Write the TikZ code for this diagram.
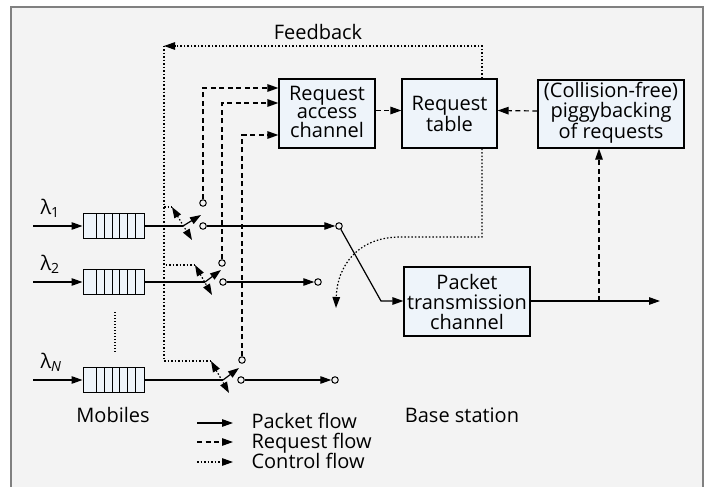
\documentclass[tikz,border=0pt]{standalone}
\usepackage{fontspec}
\setmainfont{Open Sans}
\usetikzlibrary{arrows.meta}
\definecolor{bgcol}{HTML}{F3F3F3}
\definecolor{boxfill}{HTML}{EEF4FA}
\definecolor{framecol}{HTML}{808080}

\begin{document}
\begin{tikzpicture}[x=1pt,y=-1pt,
		>={Triangle[length=11pt,width=7.5pt]},
		every node/.style={font=\fontsize{20}{17}\selectfont},
		block/.style={draw,fill=boxfill,line width=1.2pt,inner sep=0pt,align=center},
		queue/.style={draw,fill=boxfill,line width=1pt,minimum width=61pt,minimum height=25pt,inner sep=0pt,
			path picture={\foreach \d in {13,21,29,36.5,44,52}
				\draw ([xshift=\d pt]path picture bounding box.south west) -- ([xshift=\d pt]path picture bounding box.north west);}},
		contact/.style={circle,draw,fill=bgcol,line width=1pt,minimum size=6.5pt,inner sep=0pt},
		packet/.style={line width=1.2pt},
		request/.style={line width=1.2pt,dash pattern=on 5pt off 3.5pt},
		control/.style={line width=1.2pt,dash pattern=on 1.5pt off 2pt}]
			\useasboundingbox (0,0) rectangle (707,487);
			\fill[bgcol] (11,7) rectangle (703,487);
			\draw[framecol,line width=2pt] (11,487) -- (11,7) -- (703,7) -- (703,487);
		
			% base station blocks
			\node[block,minimum width=96pt,minimum height=69pt,text depth=4pt,font=\fontsize{20}{18.5}\selectfont] (rac) at (327,113.5) {Request\\access\\channel};
			\node[block,minimum width=95pt,minimum height=69pt] (rtab) at (449.5,113.5) {Request\\table};
			\node[block,minimum width=146pt,minimum height=68pt,text depth=7pt] (piggy) at (611,114) {(Collision-free)\\piggybacking\\of requests};
			\node[block,minimum width=126pt,minimum height=69pt,font=\fontsize{20}{20}\selectfont] (ptc) at (467,301.5) {Packet\\transmission\\channel};
			
			% mobiles
			\node[queue] (q1) at (113.5,226) {};
			\node[queue] (q2) at (113.5,282) {};
			\node[queue] (qN) at (113.5,380) {};
			\node[anchor=base west] (lam1) at (37,214) {λ\textsubscript{1}};
			\node[anchor=base west] (lam2) at (37,270) {λ\textsubscript{2}};
			\node[anchor=base west] (lamN) at (37,368) {λ\textsubscript{\itshape N}};
			\coordinate (in1) at (33,226);
			\coordinate (in2) at (33,282);
			\coordinate (inN) at (33,380);
			\draw[packet,->] (in1) -- (q1);
			\draw[packet,->] (in2) -- (q2);
			\draw[packet,->] (inN) -- (qN);
			\coordinate (dt) at (115,312);
			\coordinate (db) at (115,352);
			\draw[line width=1.2pt,dash pattern=on 1.2pt off 1.8pt] (dt) -- (db);
			
			% switches
			\coordinate (pv1) at (183,226);
			\coordinate (pv2) at (205,282);
			\coordinate (pvN) at (223,380);
			\coordinate (lv1) at (201,215);
			\coordinate (lv2) at (221,270);
			\coordinate (lvN) at (239,368);
			\node[contact] (up1) at (203,203) {};
			\node[contact] (lo1) at (203,226) {};
			\node[contact] (up2) at (222,263) {};
			\node[contact] (lo2) at (223,282) {};
			\node[contact] (upN) at (242,360) {};
			\node[contact] (loN) at (241,380) {};
			\draw[packet] (q1) -- (pv1);
			\draw[packet] (q2) -- (pv2);
			\draw[packet] (qN) -- (pvN);
			\draw[packet,->] (pv1) -- (lv1);
			\draw[packet,->] (pv2) -- (lv2);
			\draw[packet,->] (pvN) -- (lvN);
			
			% feedback / control
			\coordinate (fbl) at (164,46);
			\coordinate (fbr) at (482,46);
			\node[anchor=base] (fbtxt) at (318,40) {Feedback};
			\draw[control,->] (rtab.north -| fbr) -- (fbr) -- (fbl);
			\coordinate (ca1) at (172,207);
			\coordinate (cb1) at (192,240);
			\coordinate (ca2) at (195,265);
			\coordinate (cb2) at (212,295);
			\coordinate (caN) at (211,361);
			\coordinate (cbN) at (229,393);
			\draw[control] (fbl) |- (ca1);
			\draw[control] (fbl) |- (ca2);
			\draw[control] (fbl) |- (caN);
			\draw[control,<->] (ca1) -- (cb1);
			\draw[control,<->] (ca2) -- (cb2);
			\draw[control,<->] (caN) -- (cbN);
			\coordinate (cdn) at (482,237);
			\coordinate (bend) at (400,237);
			\coordinate (ctip) at (336,308);
			\draw[control,->] (rtab.south -| cdn) -- (cdn) -- (bend) .. controls (358,237) and (337,266) .. (ctip);
			
			% requests
			\draw[request,->] (up1) |- ([yshift=25.5pt]rac.west);
			\draw[request,->] (up2) |- ([yshift=10.5pt]rac.west);
			\draw[request,->] (upN) |- ([yshift=-21.5pt]rac.west);
			\draw[request,->] ([yshift=3pt]rac.east) -- ([yshift=3pt]rtab.west);
			\draw[request,->] ([yshift=3pt]piggy.west) -- ([yshift=3pt]rtab.east);
			
			% packets
			\node[contact] (end1) at (339,226) {};
			\node[contact] (end2) at (318,282) {};
			\node[contact] (endN) at (335,380) {};
			\draw[packet,->] (lo1) -- (end1);
			\draw[packet,->] (lo2) -- (end2);
			\draw[packet,->] (loN) -- (endN);
			\coordinate (kn) at (381,301);
			\coordinate (tap) at (599,301);
			\coordinate (out) at (660,301);
			\draw[packet,->] (end1) -- (kn) -- (kn -| ptc.west);
			\draw[packet,->] (ptc.east |- kn) -- (out);
			\draw[request,->] (tap) -- (tap |- piggy.south);
			
			% labels and legend
			\node[anchor=base] (mob) at (113,422) {Mobiles};
			\node[anchor=base] (bs) at (462,422) {Base station};
			\coordinate (l1a) at (197,423);
			\coordinate (l1b) at (233,423);
			\coordinate (l2a) at (197,442);
			\coordinate (l2b) at (233,442);
			\coordinate (l3a) at (197,462);
			\coordinate (l3b) at (233,462);
			\draw[packet,->] (l1a) -- (l1b);
			\draw[request,->] (l2a) -- (l2b);
			\draw[control,->] (l3a) -- (l3b);
			\node[anchor=base west] (lg1) at (248,428) {Packet flow};
			\node[anchor=base west] (lg2) at (248,448) {Request flow};
			\node[anchor=base west] (lg3) at (248,468) {Control flow};
		\end{tikzpicture}
\end{document}
